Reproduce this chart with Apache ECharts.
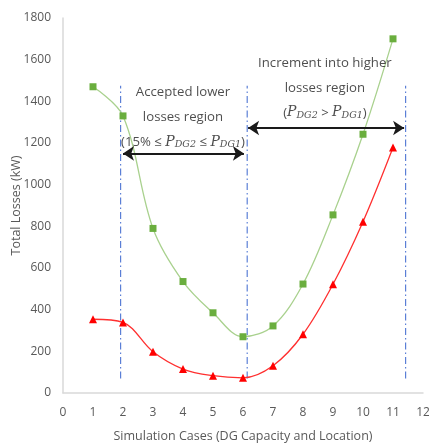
<!DOCTYPE html>
<html><head><meta charset="utf-8">
<script src="https://cdn.jsdelivr.net/npm/echarts@6/dist/echarts.min.js"></script>
<style>html,body{margin:0;padding:0;background:#fff}#c{width:429px;height:446px}</style>
</head><body><div id="c"></div>
<script>
var cases = [1,2,3,4,5,6,7,8,9,10,11];
var seriesA = [1470,1330,790,535,385,270,322,523,855,1242,1700];
var seriesB = [354,339,198,115,83,73,131,282,522,822,1178];
var xTicks = {min:0, max:12, interval:1};
var yTicks = {min:0, max:1800, interval:200};
var boundaryX = [1.92, 6.14, 11.42];
var boundaryY = [70, 1475];
var arrowLeft = [[2.0,1150],[6.03,1150]];
var arrowRight = [[6.17,1272],[11.37,1272]];
var noteLower = [4.0, 1325];
var noteHigher = [8.73, 1465];

var FONT = "'Open Sans',sans-serif";
var chart = echarts.init(document.getElementById('c'));
var richStyle = {
  p:{fontStyle:'italic', fontFamily:"'DejaVu Serif',serif", fontSize:14, color:'#222', lineHeight:25},
  s:{fontStyle:'italic', fontFamily:"'DejaVu Serif',serif", fontSize:9.5, color:'#222', verticalAlign:'middle', lineHeight:11, padding:[6,0,0,0]},
  t:{fontFamily:FONT, fontSize:13.2, color:'#222', lineHeight:25}
};
var series = [];
boundaryX.forEach(function(x){
  series.push({type:'line', data:[[x,boundaryY[0]],[x,boundaryY[1]]], symbol:'none', silent:true,
    lineStyle:{color:'#5B7FD6', width:1.2, type:[7,3,1.5,3]}, z:1});
});
series.push({type:'line', name:'A', data:cases.map(function(c,i){return [c,seriesA[i]];}), smooth:0.35,
  symbol:'rect', symbolSize:7, itemStyle:{color:'#6AAE3E'}, lineStyle:{color:'#A9D18E', width:1.3}, z:3});
series.push({type:'line', name:'B', data:cases.map(function(c,i){return [c,seriesB[i]];}), smooth:0.35,
  symbol:'triangle', symbolSize:8, itemStyle:{color:'#FF0000'}, lineStyle:{color:'#FF3030', width:1.3}, z:3});
series.push({type:'lines', coordinateSystem:'cartesian2d', symbol:['arrow','arrow'], symbolSize:11, silent:true,
  lineStyle:{color:'#1a1a1a', width:2, opacity:1}, data:[{coords:arrowLeft},{coords:arrowRight}], z:4});
series.push({type:'scatter', symbolSize:0, silent:true, z:5,
  data:[
    {value:noteLower, label:{show:true, position:'inside', formatter:'{t|Accepted lower}\n{t|losses region}\n{t|(15% ≤ }{p|P}{s|DG2}{t| ≤ }{p|P}{s|DG1}{t|)}', rich:richStyle, align:'center'}},
    {value:noteHigher, label:{show:true, position:'inside', formatter:'{t|Increment into higher}\n{t|losses region}\n{t|(}{p|P}{s|DG2}{t| > }{p|P}{s|DG1}{t|)}', rich:richStyle, align:'center'}}
  ]});

chart.setOption({
  animation:false,
  backgroundColor:'#fff',
  grid:{left:63, right:6, top:18, bottom:53, containLabel:false, outerBoundsMode:'none'},
  xAxis:{type:'value', min:xTicks.min, max:xTicks.max, interval:xTicks.interval,
    name:'Simulation Cases (DG Capacity and Location)', nameLocation:'middle', nameGap:37,
    nameTextStyle:{fontFamily:FONT, fontSize:12.5, color:'#595959'},
    axisLine:{lineStyle:{color:'#D9D9D9', width:1.5}}, axisTick:{show:false}, splitLine:{show:false},
    axisLabel:{fontFamily:FONT, fontSize:12, color:'#595959', margin:14}},
  yAxis:{type:'value', min:yTicks.min, max:yTicks.max, interval:yTicks.interval,
    name:'Total Losses (kW)', nameLocation:'middle', nameGap:40, nameRotate:90, nameMoveOverlap:false,
    nameTextStyle:{fontFamily:FONT, fontSize:12.5, color:'#595959'},
    axisLine:{show:true, lineStyle:{color:'#D9D9D9', width:1.5}}, axisTick:{show:false}, splitLine:{show:false},
    axisLabel:{fontFamily:FONT, fontSize:12, color:'#595959', margin:12, formatter:function(v){return String(v);}}},
  series:series
});
</script></body></html>
